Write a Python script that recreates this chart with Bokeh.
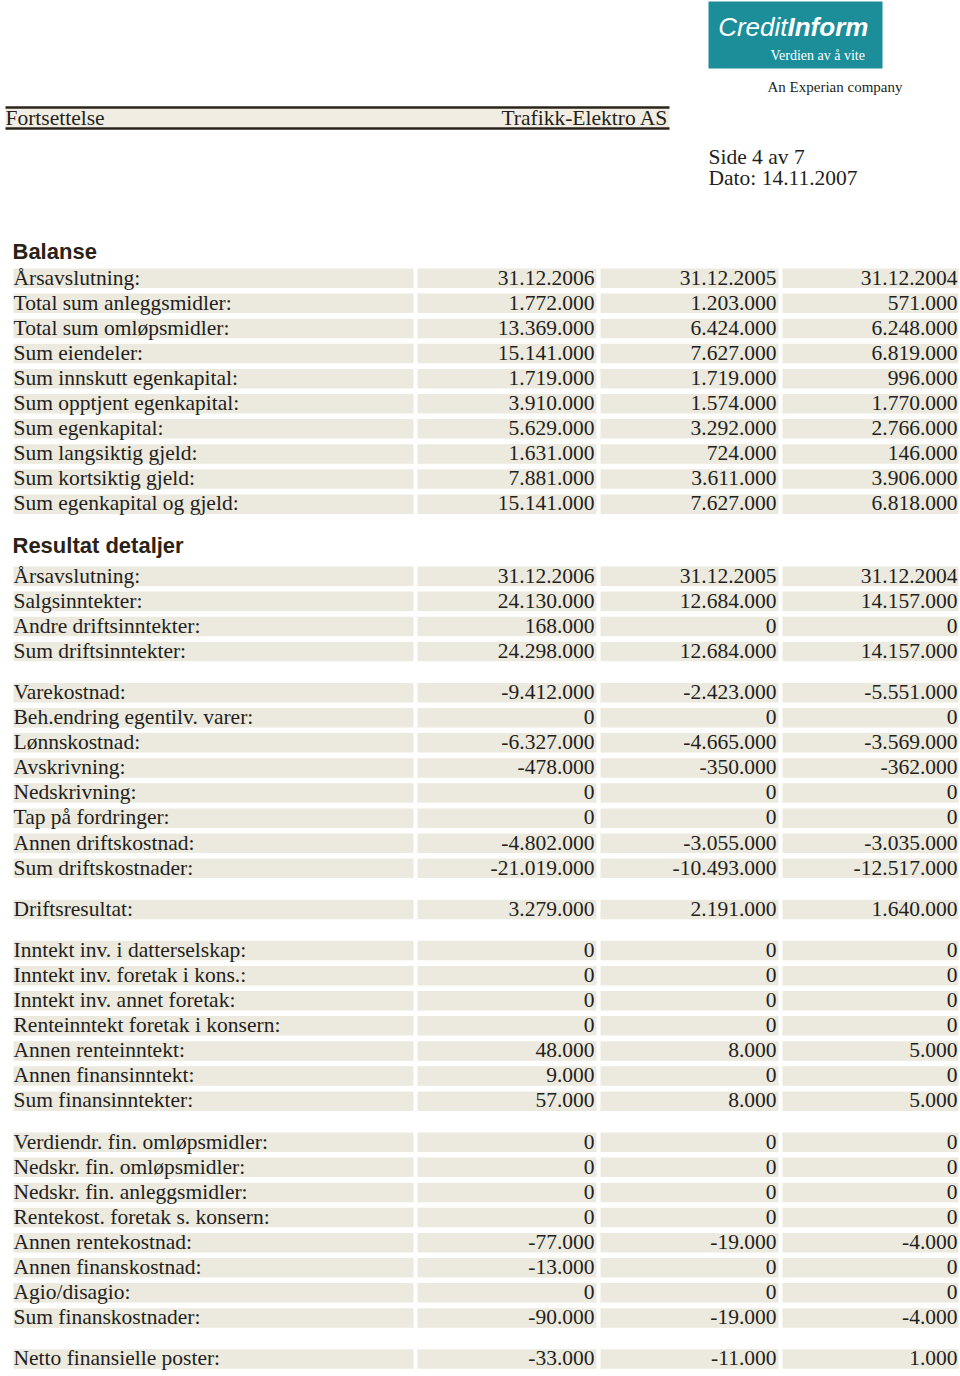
from bokeh.plotting import figure
from bokeh.models import Range1d
from bokeh.embed import file_html
from bokeh.resources import INLINE
from bokeh.core.properties import value

# ---------------- data ----------------
page_label = "Fortsettelse"
company = "Trafikk-Elektro AS"
page_info = ["Side 4 av 7", "Dato: 14.11.2007"]
logo_words = ["Credit", "Inform"]
logo_slogan = "Verdien av å vite"
logo_owner = "An Experian company"

header_label = "Årsavslutning:"
years = ["31.12.2006", "31.12.2005", "31.12.2004"]

balanse_title = "Balanse"
balanse_labels = [
    "Total sum anleggsmidler:", "Total sum omløpsmidler:", "Sum eiendeler:",
    "Sum innskutt egenkapital:", "Sum opptjent egenkapital:", "Sum egenkapital:",
    "Sum langsiktig gjeld:", "Sum kortsiktig gjeld:", "Sum egenkapital og gjeld:",
]
balanse_2006 = [1772, 13369, 15141, 1719, 3910, 5629, 1631, 7881, 15141]
balanse_2005 = [1203, 6424, 7627, 1719, 1574, 3292, 724, 3611, 7627]
balanse_2004 = [571, 6248, 6819, 996, 1770, 2766, 146, 3906, 6818]

resultat_title = "Resultat detaljer"
resultat_labels = [
    "Salgsinntekter:", "Andre driftsinntekter:", "Sum driftsinntekter:",
    "Varekostnad:", "Beh.endring egentilv. varer:", "Lønnskostnad:", "Avskrivning:",
    "Nedskrivning:", "Tap på fordringer:", "Annen driftskostnad:", "Sum driftskostnader:",
    "Driftsresultat:",
    "Inntekt inv. i datterselskap:", "Inntekt inv. foretak i kons.:", "Inntekt inv. annet foretak:",
    "Renteinntekt foretak i konsern:", "Annen renteinntekt:", "Annen finansinntekt:",
    "Sum finansinntekter:",
    "Verdiendr. fin. omløpsmidler:", "Nedskr. fin. omløpsmidler:", "Nedskr. fin. anleggsmidler:",
    "Rentekost. foretak s. konsern:", "Annen rentekostnad:", "Annen finanskostnad:",
    "Agio/disagio:", "Sum finanskostnader:",
    "Netto finansielle poster:",
]
# block number of each row (blank line between blocks)
resultat_block = [0] * 3 + [1] * 8 + [2] + [3] * 7 + [4] * 8 + [5]
resultat_2006 = [24130, 168, 24298, -9412, 0, -6327, -478, 0, 0, -4802, -21019, 3279,
                 0, 0, 0, 0, 48, 9, 57, 0, 0, 0, 0, -77, -13, 0, -90, -33]
resultat_2005 = [12684, 0, 12684, -2423, 0, -4665, -350, 0, 0, -3055, -10493, 2191,
                 0, 0, 0, 0, 8, 0, 8, 0, 0, 0, 0, -19, 0, 0, -19, -11]
resultat_2004 = [14157, 0, 14157, -5551, 0, -3569, -362, 0, 0, -3035, -12517, 1640,
                 0, 0, 0, 0, 5, 0, 5, 0, 0, 0, 0, -4, 0, 0, -4, 1]


def fmt(v):
    if v == 0:
        return "0"
    return f"{v * 1000:,}".replace(",", ".")


# ---------------- styling ----------------
SERIF = value("Liberation Serif")
HEAD = value("Liberation Sans")
TXT = "#231f20"
BAND = "#ece9de"
TEAL = "#1b8e9a"
FS = "21.5px"
ROW = 25.1
GAP = 16
LABEL_COL = (13, 413)
VAL_COLS = [(417, 596), (600, 778), (782, 958)]
VAL_RIGHT = [594, 776, 957]

p = figure(width=960, height=1376, x_range=Range1d(0, 960), y_range=Range1d(1376, 0),
           output_backend="svg", toolbar_location=None, x_axis_type=None, y_axis_type=None,
           min_border=0, outline_line_color=None,
           background_fill_color="white", border_fill_color="white")
p.grid.visible = False


def txt(x, y, s, size, align="left", font=SERIF, style="normal", color=TXT):
    p.text(x=x, y=y, text=s, text_font=font, text_font_size=size, text_font_style=style,
           text_color=color, text_align=align, text_baseline="alphabetic")


# ---------------- logo ----------------
p.quad(left=[708], right=[882], top=[1], bottom=[68], fill_color=TEAL, line_color=None)
txt([787], [26], [logo_words[0]], "26px", "right", HEAD, "italic", "white")
txt([787], [26], [logo_words[1]], "26px", "left", HEAD, "bold italic", "white")
txt([770], [55], [logo_slogan], "14px", "left", SERIF, "normal", "white")
txt([767], [86], [logo_owner], "15px")

# ---------------- page header ----------------
p.quad(left=[5], right=[669], top=[108], bottom=[127], fill_color="#f1ede2", line_color=None)
p.segment(x0=[5, 5], y0=[107, 128], x1=[669, 669], y1=[107, 128], line_color="#2b2418", line_width=2.5)
txt([5], [117], [page_label], FS)
txt([668], [117], [company], FS, "right")
txt([708, 708], [156, 177], page_info, FS)


# ---------------- tables ----------------
def draw_section(title, title_y, first_y, labels, blocks, cols):
    txt([12], [title_y], [title], "22px", "left", HEAD, "bold", "#2a2216")
    rows_lab = [header_label] + labels
    rows_val = [years] + [[fmt(c[i]) for c in cols] for i in range(len(labels))]
    rows_blk = [blocks[0]] + blocks
    ys = [first_y + ROW * k + GAP * (b - blocks[0]) for k, b in enumerate(rows_blk)]
    L, R, T, B = [], [], [], []
    for y in ys:
        for (l, r) in [LABEL_COL] + VAL_COLS:
            L.append(l); R.append(r); T.append(y - 10); B.append(y + 9.5)
    p.quad(left=L, right=R, top=T, bottom=B, fill_color=BAND, line_color=None)
    ty = [y - 1 for y in ys]
    txt([LABEL_COL[0]] * len(ys), ty, rows_lab, FS)
    for j in range(3):
        txt([VAL_RIGHT[j]] * len(ys), ty, [rv[j] for rv in rows_val], FS, "right")


draw_section(balanse_title, 250.5, 278, balanse_labels, [0] * len(balanse_labels),
             [balanse_2006, balanse_2005, balanse_2004])
draw_section(resultat_title, 544.5, 576, resultat_labels, resultat_block,
             [resultat_2006, resultat_2005, resultat_2004])

open("out.html", "w").write(file_html(p, INLINE))
